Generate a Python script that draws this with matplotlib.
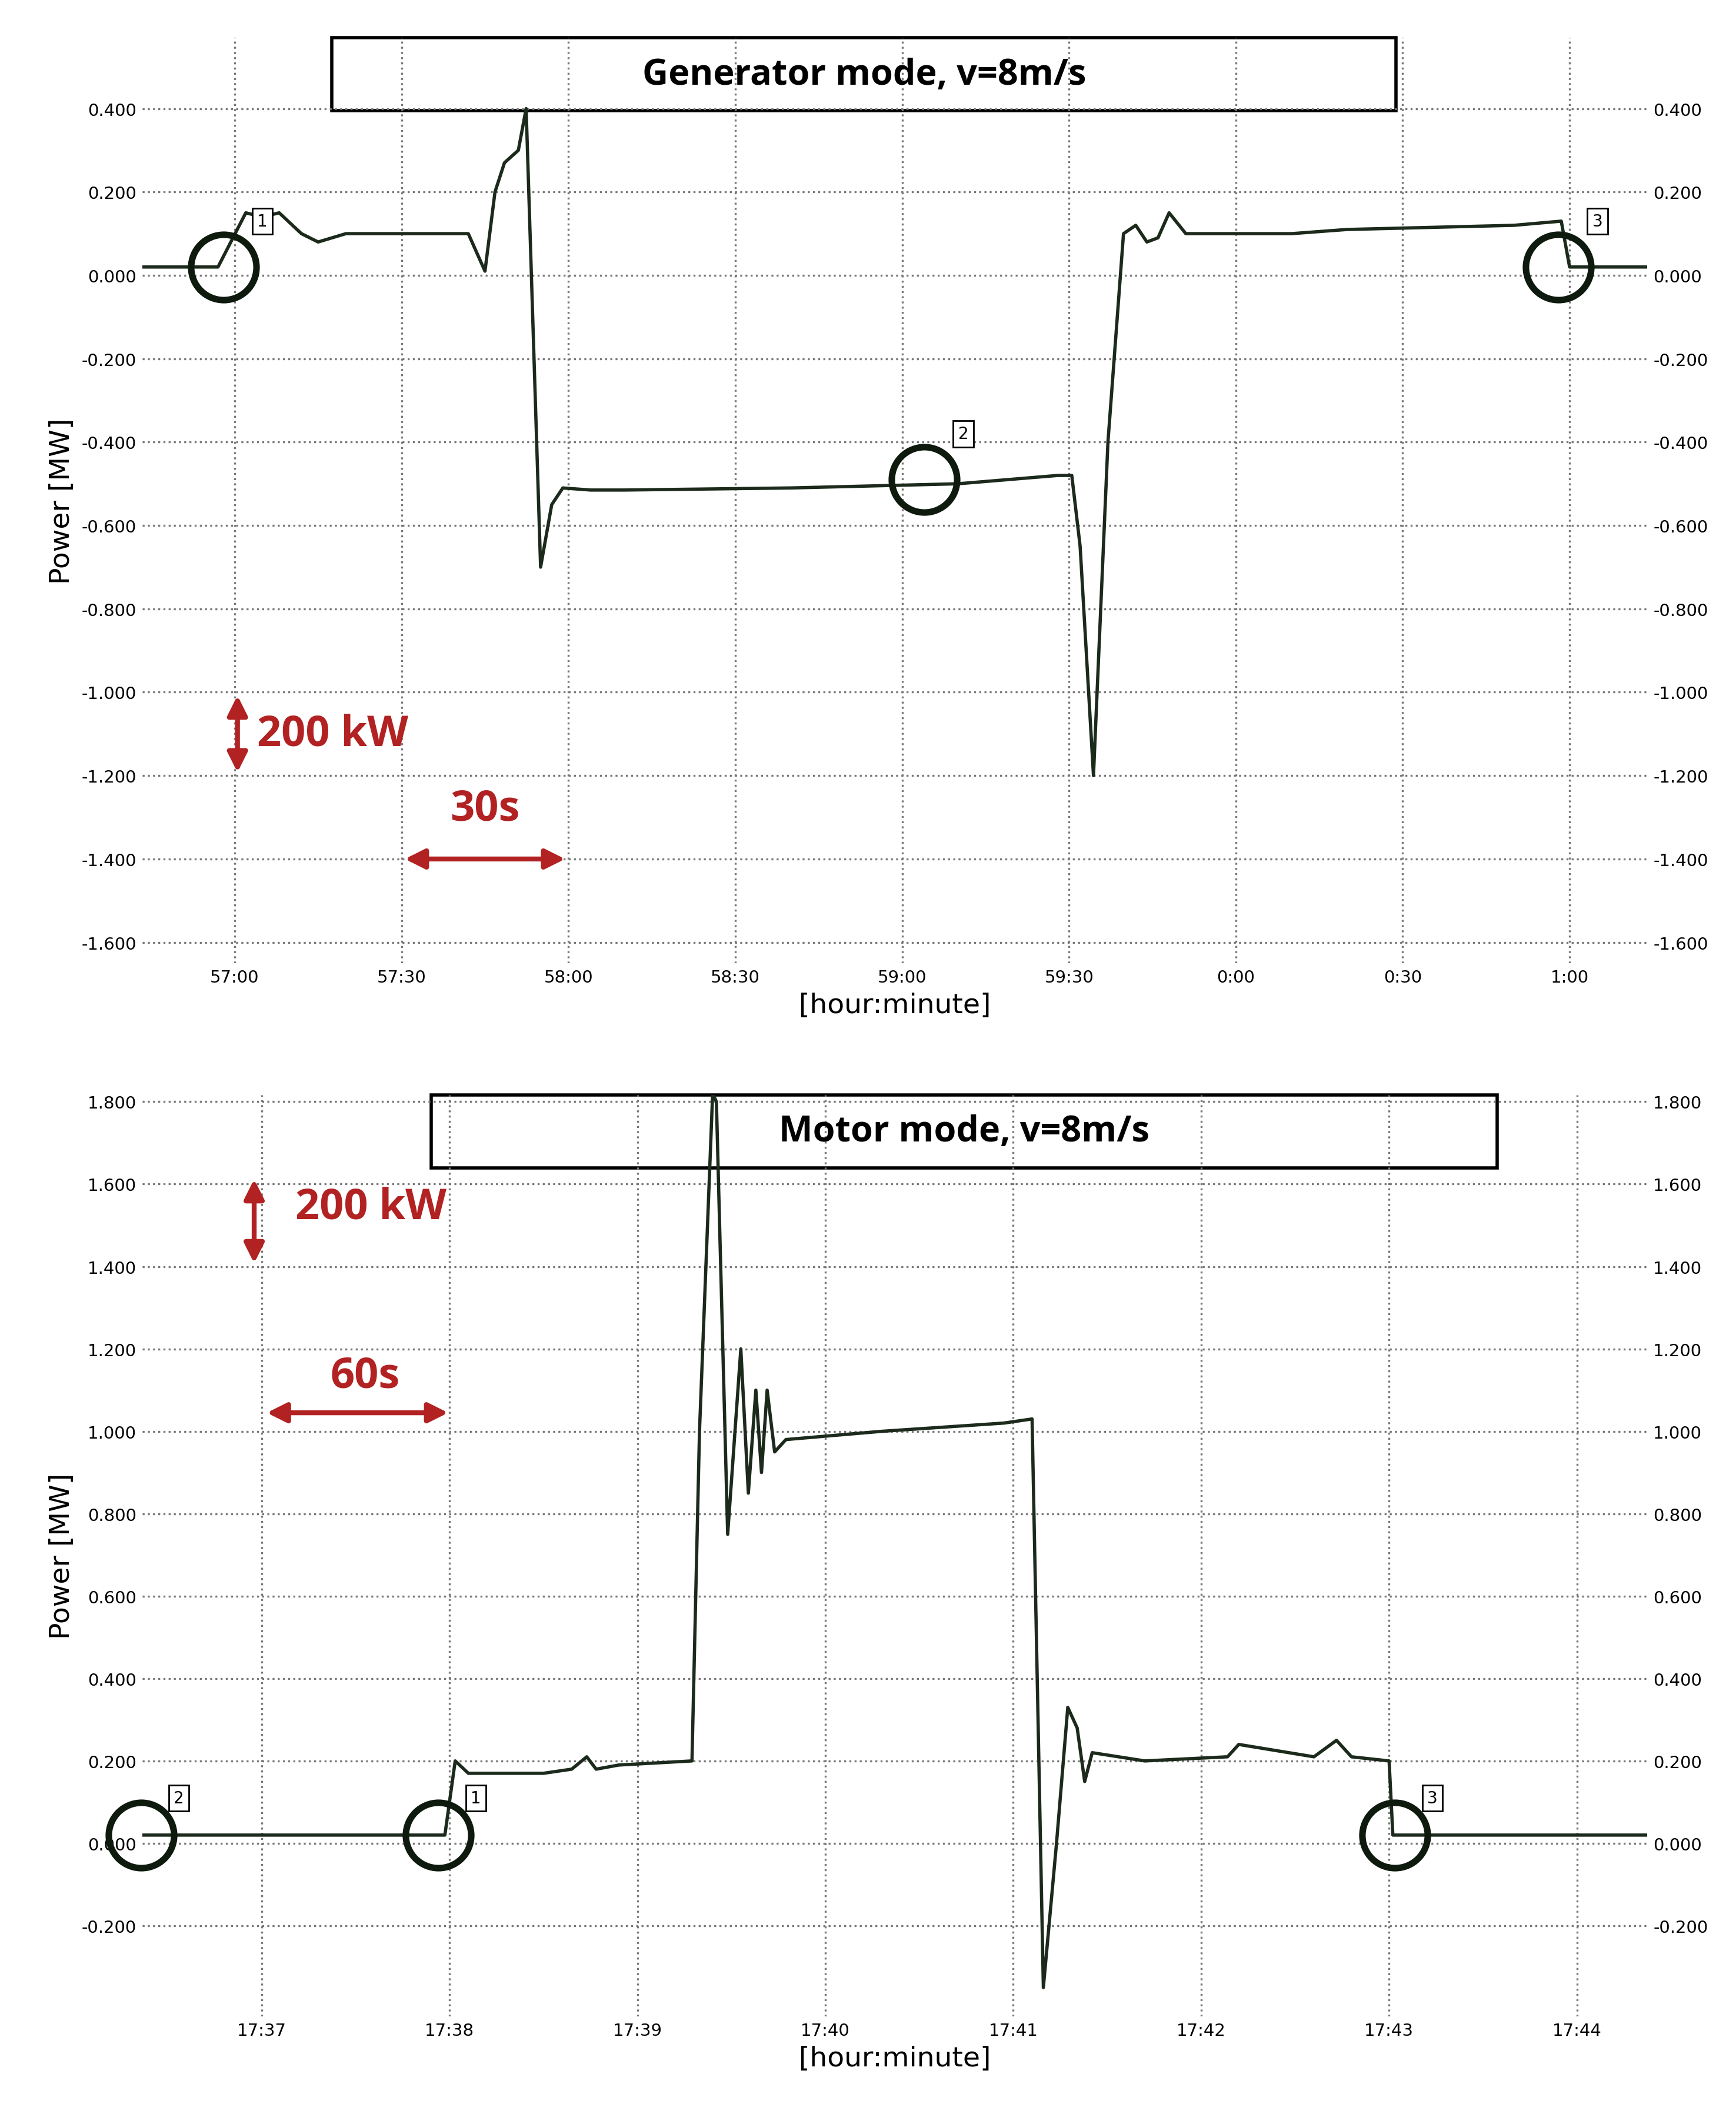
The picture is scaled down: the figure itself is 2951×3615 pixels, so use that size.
import matplotlib.pyplot as plt
import numpy as np

# generator mode (x in seconds from 57:00, y in MW)
gen_t = [-17, -3, 2, 5, 8, 12, 15, 20, 30, 42, 45, 46.8, 48.5, 51, 52.4, 55, 57, 59, 64, 70, 100,
         130, 148, 150.5, 152, 154.4, 157, 159.8, 162, 164, 166, 168, 171, 180, 190, 200, 230, 238.5, 240, 255]
gen_p = [0.02, 0.02, 0.15, 0.14, 0.15, 0.10, 0.08, 0.10, 0.10, 0.10, 0.01, 0.20, 0.27, 0.30, 0.40,
         -0.70, -0.55, -0.51, -0.515, -0.515, -0.51, -0.50, -0.48, -0.48, -0.65, -1.20, -0.40, 0.10, 0.12,
         0.08, 0.09, 0.15, 0.10, 0.10, 0.10, 0.11, 0.12, 0.13, 0.02, 0.02]
gen_ticks = [0, 30, 60, 90, 120, 150, 180, 210, 240]
gen_labels = ['57:00', '57:30', '58:00', '58:30', '59:00', '59:30', '0:00', '0:30', '1:00']
gen_marks = [(-2, 0.02, '1'), (124, -0.49, '2'), (238, 0.02, '3')]

# motor mode (x in minutes from 17:37, y in MW)
mot_t = [-0.64, 0.975, 1.03, 1.10, 1.50, 1.65, 1.73, 1.78, 1.90, 2.29, 2.33, 2.40, 2.42, 2.48,
         2.55, 2.59, 2.63, 2.66, 2.69, 2.73, 2.79, 3.30, 3.95, 4.10, 4.16, 4.23, 4.29, 4.34, 4.38,
         4.42, 4.70, 5.14, 5.20, 5.60, 5.72, 5.80, 6.00, 6.02, 7.38]
mot_p = [0.02, 0.02, 0.20, 0.17, 0.17, 0.18, 0.21, 0.18, 0.19, 0.20, 1.00, 1.82, 1.80, 0.75, 1.20,
         0.85, 1.10, 0.90, 1.10, 0.95, 0.98, 1.00, 1.02, 1.03, -0.35, 0.00, 0.33, 0.28, 0.15, 0.22,
         0.20, 0.21, 0.24, 0.21, 0.25, 0.21, 0.20, 0.02, 0.02]
mot_ticks = [0, 1, 2, 3, 4, 5, 6, 7]
mot_labels = ['17:37', '17:38', '17:39', '17:40', '17:41', '17:42', '17:43', '17:44']
mot_marks = [(-0.64, 0.02, '2'), (0.94, 0.02, '1'), (6.03, 0.02, '3')]

red = '#b22222'
line_c = '#1c2a1c'


def style(ax, yticks):
    for s in ax.spines.values():
        s.set_visible(False)
    ax.set_yticks(yticks)
    ax.set_yticklabels(['%.3f' % v for v in yticks])
    ax.tick_params(length=0, labelsize=10.5, labelright=True)
    ax.grid(True, linestyle=':', color='#777777', linewidth=1.2)
    ax.set_ylabel('Power [MW]', fontsize=17)
    ax.set_xlabel('[hour:minute]', fontsize=17)


def marks(ax, pts, dx, dy):
    for x, y, lab in pts:
        ax.plot(x, y, 'o', ms=40, mfc='none', mec='#0d1a0d', mew=4, clip_on=False, zorder=5)
        ax.text(x + dx, y + dy, lab, fontsize=10, ha='center', va='center',
                bbox=dict(boxstyle='square,pad=0.3', fc='white', ec='black', lw=1))


def title_box(ax, x0, x1, text):
    ax.text((x0 + x1) / 2, 0.96, text, transform=ax.transAxes, ha='center', va='center',
            fontsize=22, fontweight='bold', family=['Open Sans', 'DejaVu Sans'])
    ax.add_patch(plt.Rectangle((x0, 0.921), x1 - x0, 0.079, transform=ax.transAxes,
                               fill=False, ec='black', lw=2, clip_on=False))


fig = plt.figure(figsize=(14.755, 18.08), dpi=200)

ax1 = fig.add_axes([0.082, 0.547, 0.867, 0.435])
ax1.plot(gen_t, gen_p, color=line_c, lw=2)
ax1.set_xlim(-16.6, 254)
ax1.set_ylim(-1.65, 0.57)
ax1.set_xticks(gen_ticks)
ax1.set_xticklabels(gen_labels)
style(ax1, [0.4, 0.2, 0.0, -0.2, -0.4, -0.6, -0.8, -1.0, -1.2, -1.4, -1.6])
marks(ax1, gen_marks, 7, 0.11)
title_box(ax1, 0.126, 0.833, 'Generator mode, v=8m/s')
ax1.annotate('', xy=(0.5, -1.0), xytext=(0.5, -1.2),
             arrowprops=dict(arrowstyle='<|-|>', color=red, lw=3, mutation_scale=25))
ax1.text(4, -1.1, '200 kW', color=red, fontsize=26, fontweight='bold', va='center',
         family=['Open Sans', 'DejaVu Sans'])
ax1.annotate('', xy=(30, -1.4), xytext=(60, -1.4),
             arrowprops=dict(arrowstyle='<|-|>', color=red, lw=3, mutation_scale=25))
ax1.text(45, -1.28, '30s', color=red, fontsize=26, fontweight='bold', ha='center', va='center',
         family=['Open Sans', 'DejaVu Sans'])

ax2 = fig.add_axes([0.082, 0.052, 0.867, 0.433])
ax2.plot(mot_t, mot_p, color=line_c, lw=2)
ax2.set_xlim(-0.635, 7.375)
ax2.set_ylim(-0.42, 1.816)
ax2.set_xticks(mot_ticks)
ax2.set_xticklabels(mot_labels)
style(ax2, [1.8, 1.6, 1.4, 1.2, 1.0, 0.8, 0.6, 0.4, 0.2, 0.0, -0.2])
marks(ax2, mot_marks, 0.2, 0.09)
title_box(ax2, 0.192, 0.9, 'Motor mode, v=8m/s')
ax2.annotate('', xy=(-0.04, 1.62), xytext=(-0.04, 1.40),
             arrowprops=dict(arrowstyle='<|-|>', color=red, lw=3, mutation_scale=25))
ax2.text(0.18, 1.545, '200 kW', color=red, fontsize=26, fontweight='bold', va='center',
         family=['Open Sans', 'DejaVu Sans'])
ax2.annotate('', xy=(0.01, 1.045), xytext=(1.01, 1.045),
             arrowprops=dict(arrowstyle='<|-|>', color=red, lw=3, mutation_scale=25))
ax2.text(0.55, 1.135, '60s', color=red, fontsize=26, fontweight='bold', ha='center', va='center',
         family=['Open Sans', 'DejaVu Sans'])

fig.savefig('out.png', dpi=200)
